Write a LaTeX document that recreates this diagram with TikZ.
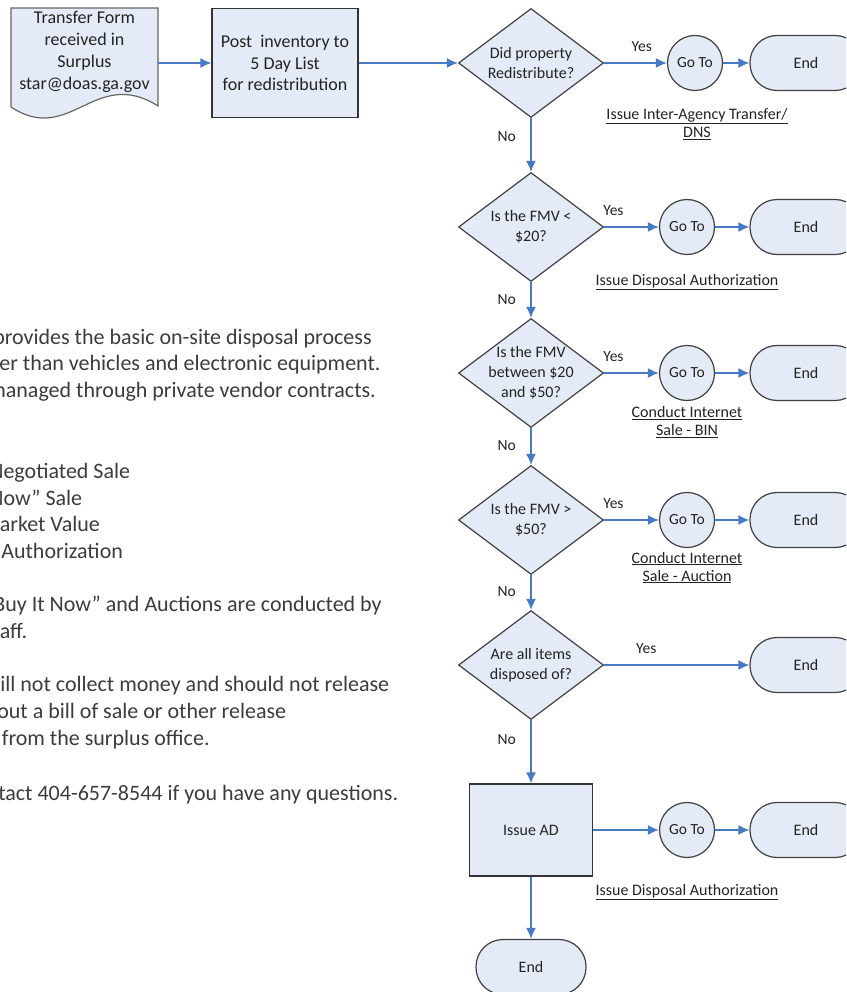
\documentclass[tikz,border=0pt]{standalone}
\usepackage{fontspec}
\setmainfont{Carlito}
\usetikzlibrary{positioning,shapes.geometric,arrows.meta}
\definecolor{boxfill}{RGB}{229,235,246}
\definecolor{flowblue}{RGB}{72,122,196}
\definecolor{inkgray}{RGB}{35,35,35}
\definecolor{memogray}{RGB}{60,60,60}

\begin{document}
\begin{tikzpicture}[x=1pt ,y=-1pt ,semithick ,
box/.style ={rectangle ,draw=black!80 ,line width=1.3pt ,fill=boxfill ,
  align=center ,text=inkgray ,font=\fontsize{18}{21.5}\selectfont},
decision/.style ={diamond ,draw=black!75 ,line width=1.2pt ,fill=boxfill ,
  minimum width=145pt ,minimum height=109pt ,inner sep=0pt},
ask/.style ={align=center ,text=inkgray ,font=\fontsize{16}{20}\selectfont},
goto/.style ={circle ,draw=black!75 ,line width=1.2pt ,fill=boxfill ,
  minimum size=55pt ,inner sep=0pt ,text=inkgray ,font=\fontsize{15.5}{18}\selectfont},
stop/.style ={rectangle ,rounded corners=27pt ,draw=black!75 ,line width=1.2pt ,
  fill=boxfill ,minimum width=112pt ,minimum height=55pt ,text=inkgray ,
  font=\fontsize{16}{19}\selectfont},
flow/.style ={-{Latex[length=11pt ,width=10pt]} ,draw=flowblue ,line width=1.6pt},
answer/.style ={text=inkgray ,font=\fontsize{15.5}{18}\selectfont},
note/.style ={align=center ,text=inkgray ,font=\fontsize{16}{18}\selectfont},
memo/.style ={anchor=base west ,inner sep=0pt ,text=memogray ,
  font=\fontsize{22}{26.5}\selectfont}]
\useasboundingbox (0,0) rectangle (846,992);
\clip (0,0) rectangle (846,992);

% transfer form (document shape)
\draw[draw=black!60 ,line width=1.2pt ,fill=boxfill] (11,8) -- (158,8) -- (158,106)
  .. controls (95,66) and (70,146) .. (11,107) -- cycle;
\node[align=center ,text=inkgray ,font=\fontsize{18}{22}\selectfont ,
  minimum width=147pt ,minimum height=88pt] (form) at (84.5,52)
  {Transfer Form\\received in\\Surplus\\star@doas.ga.gov};

\node[decision ,label={[name=d1q ,ask]center:{Did property\\Redistribute?}}] (d1) at (531,63) {};
\node[box ,minimum width=146pt ,minimum height=109pt ,on grid] (post) [left=246pt of d1]
  {Post\ \ inventory to\\5 Day List\\for redistribution};
\node[goto ,on grid] (g1) [right=164pt of d1] {Go To};
\node[stop ,on grid] (e1) [right=111pt of g1] {End};

\node[decision ,on grid ,label={[name=d2q ,ask]center:{Is the FMV <\\\$20?}}] (d2) [below=164pt of d1] {};
\node[goto ,on grid] (g2) [right=156pt of d2] {Go To};
\node[stop ,on grid] (e2) [right=119pt of g2] {End};

\node[decision ,on grid ,label={[name=d3q ,ask]center:{Is the FMV\\between \$20\\and \$50?}}] (d3) [below=146pt of d2] {};
\node[goto ,on grid] (g3) [right=156pt of d3] {Go To};
\node[stop ,on grid] (e3) [right=119pt of g3] {End};

\node[decision ,on grid ,label={[name=d4q ,ask]center:{Is the FMV >\\\$50?}}] (d4) [below=147pt of d3] {};
\node[goto ,on grid] (g4) [right=156pt of d4] {Go To};
\node[stop ,on grid] (e4) [right=119pt of g4] {End};

\node[decision ,on grid ,label={[name=d5q ,ask]center:{Are all items\\disposed of?}}] (d5) [below=145pt of d4] {};
\node[stop ,on grid] (e5) [right=275pt of d5] {End};

\node[box ,on grid ,minimum width=123pt ,minimum height=92pt ,font=\fontsize{16}{19}\selectfont] (ad) [below=165pt of d5] {Issue AD};
\node[goto ,on grid] (g6) [right=156pt of ad] {Go To};
\node[stop ,on grid] (e6) [right=119pt of g6] {End};
\node[stop ,on grid ,minimum width=110pt] (e7) [below=137pt of ad] {End};

% underlined notes
\node[note] (n1) at (697,124) {\underline{Issue Inter-Agency Transfer/}\\\underline{DNS}};
\node[note] (n2) at (687,282) {\underline{Issue Disposal Authorization}};
\node[note] (n3) at (687,422) {\underline{Conduct Internet}\\\underline{Sale - BIN}};
\node[note] (n4) at (687,567.5) {\underline{Conduct Internet}\\\underline{Sale - Auction}};
\node[note] (n6) at (687,892) {\underline{Issue Disposal Authorization}};

% connectors
\draw[flow] (form.east |- post) -- (post);
\draw[flow] (post) -- (d1);
\draw[flow] (d1) -- node[answer ,above=7pt ,pos=0.6] {Yes} (g1);
\draw[flow] (g1) -- (e1);
\draw[flow] (d1) -- node[answer ,left=11pt ,pos=0.35] {No} (d2);
\draw[flow] (d2) -- node[answer ,above=7pt ,pos=0.17] {Yes} (g2);
\draw[flow] (g2) -- (e2);
\draw[flow] (d2) -- node[answer ,left=11pt ,pos=0.5] {No} (d3);
\draw[flow] (d3) -- node[answer ,above=7pt ,pos=0.17] {Yes} (g3);
\draw[flow] (g3) -- (e3);
\draw[flow] (d3) -- node[answer ,left=11pt ,pos=0.47] {No} (d4);
\draw[flow] (d4) -- node[answer ,above=7pt ,pos=0.17] {Yes} (g4);
\draw[flow] (g4) -- (e4);
\draw[flow] (d4) -- node[answer ,left=11pt ,pos=0.47] {No} (d5);
\draw[flow] (d5) -- node[answer ,above=7pt ,pos=0.29] {Yes} (e5);
\draw[flow] (d5) -- node[answer ,left=11pt ,pos=0.3] {No} (ad);
\draw[flow] (ad) -- (g6);
\draw[flow] (g6) -- (e6);
\draw[flow] (ad) -- (e7);

% notes on the left, cut at the page edge
\node[memo] (m1) at (-7,344) {provides the basic on-site disposal process};
\node[memo] (m2) at (-1,370.5) {er than vehicles and electronic equipment.};
\node[memo] (m3) at (-12,397) {managed through private vendor contracts.};
\node[memo] (m4) at (-11,478) {Negotiated Sale};
\node[memo] (m5) at (-11,505) {Now” Sale};
\node[memo] (m6) at (-0.5,531.5) {arket Value};
\node[memo] (m7) at (1,558) {Authorization};
\node[memo] (m8) at (-7,611.5) {Buy It Now” and Auctions are conducted by};
\node[memo] (m9) at (-0.5,638) {aff.};
\node[memo] (m10) at (0,691.5) {ill not collect money and should not release};
\node[memo] (m11) at (-3,718) {out a bill of sale or other release};
\node[memo] (m12) at (1.5,745) {from the surplus office.};
\node[memo] (m13) at (-2,800.5) {tact 404-657-8544 if you have any questions.};
\end{tikzpicture}
\end{document}
